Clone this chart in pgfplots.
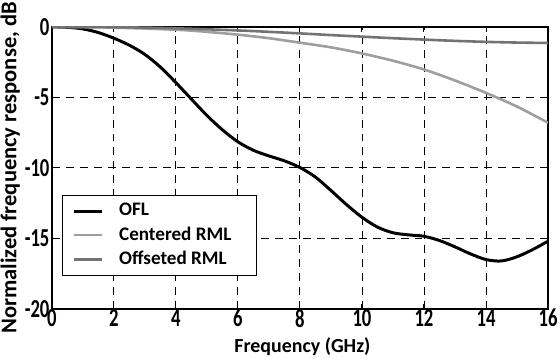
\documentclass[border=0pt]{standalone}
\usepackage{fontspec}
\setmainfont{Carlito}
\usepackage{graphicx}
\usepackage{pgfplots}
\pgfplotsset{compat=1.18}
\definecolor{cenrml}{gray}{0.62}
\definecolor{offrml}{gray}{0.45}
\begin{document}
\begin{tikzpicture}
\begin{axis}[
  at={(0,0)}, anchor=south west,
  scale only axis, width=249pt, height=141.5pt,
  xmin=0, xmax=16, ymin=-20, ymax=0,
  xtick={0,2,...,16}, ytick={-20,-15,...,0},
  /pgf/number format/assume math mode=true,
  xticklabel={\scalebox{0.72}[1]{\pgfmathprintnumber{\tick}}},
  yticklabel={\scalebox{0.72}[1]{\pgfmathprintnumber{\tick}}},
  tick label style={font=\fontsize{13}{13}\selectfont\bfseries, inner sep=1pt},
  xticklabel style={yshift=1pt},
  tick align=inside, major tick length=2.5pt,
  tick style={black, line width=0.5pt},
  axis line style={line width=0.75pt},
  grid=major,
  major grid style={black, line width=0.45pt, dash pattern=on 4pt off 3pt},
  xlabel={Frequency (GHz)},
  ylabel={Normalized frequency response, dB},
  xlabel style={font=\fontsize{10}{10}\selectfont\bfseries, at={(axis description cs:0.505,-0.134)}, anchor=center},
  ylabel style={font=\fontsize{11.3}{11.3}\selectfont\bfseries, at={(axis description cs:-0.084,0.5)}, anchor=center},
  legend style={at={(axis description cs:0.02,0.405)}, anchor=north west,
    font=\fontsize{9.6}{11}\selectfont\bfseries, draw=black, line width=0.6pt,
    cells={anchor=west}, inner xsep=5pt, inner ysep=2pt,
    row sep=0pt, column sep=6pt},
  legend image code/.code={\draw[#1] (0pt,0pt) -- (14pt,0pt);},
]
\addplot[black, line width=1.5pt, smooth] coordinates {
(0,0) (0.5,-0.03) (1,-0.14) (1.5,-0.4) (2,-0.8) (2.5,-1.3) (3,-1.95)
(3.5,-2.85) (4,-3.95) (4.5,-5.12) (5,-6.28) (5.5,-7.3) (6,-8.15) (6.5,-8.75)
(7,-9.15) (7.5,-9.5) (8,-9.97) (8.5,-10.65) (9,-11.6) (9.5,-12.6) (10,-13.5)
(10.5,-14.2) (11,-14.6) (11.5,-14.75) (12,-14.85) (12.5,-15.15) (13,-15.6)
(13.5,-16.1) (14,-16.5) (14.5,-16.6) (15,-16.3) (15.5,-15.8) (16,-15.2)
};
\addplot[cenrml, line width=1.3pt, smooth] coordinates {
(0,0) (2,-0.05) (4,-0.2) (5,-0.35) (6,-0.55) (7,-0.8) (8,-1.12) (9,-1.45)
(10,-1.88) (11,-2.4) (12,-3.02) (13,-3.8) (14,-4.68) (15,-5.65) (16,-6.8)
};
\addplot[offrml, line width=1.3pt, smooth] coordinates {
(0,0) (2,-0.02) (4,-0.1) (6,-0.25) (7,-0.35) (8,-0.46) (9,-0.58) (10,-0.69)
(11,-0.8) (12,-0.9) (13,-0.99) (14,-1.06) (15,-1.11) (16,-1.14)
};
\legend{OFL, \makebox[62pt][l]{Centered RML}, Offseted RML}
\end{axis}
\pgfresetboundingbox
\useasboundingbox (-26pt,-25pt) rectangle (255pt,155pt);
\end{tikzpicture}
\end{document}
